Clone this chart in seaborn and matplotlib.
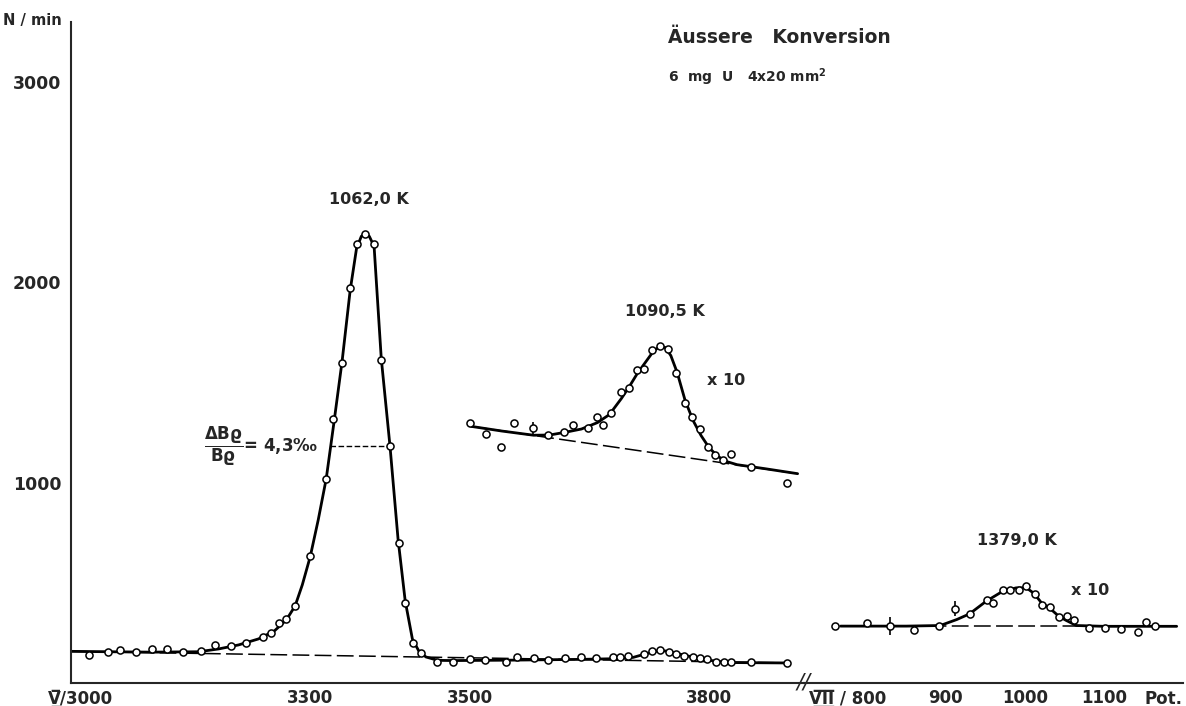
import matplotlib
matplotlib.use("Agg")
import matplotlib.pyplot as plt
import seaborn as sns

# ---------------- measured counting rates ----------------
# setting V, potentiometer reading vs. N/min
pot_v = [3022, 3047, 3062, 3081, 3101, 3120, 3140, 3163, 3181, 3200, 3220, 3241,
         3251, 3261, 3270, 3281, 3300, 3320, 3329, 3340, 3350, 3359, 3369, 3380,
         3389, 3400, 3411, 3419, 3429, 3439, 3459, 3479, 3500, 3519, 3545, 3559,
         3580, 3598, 3619, 3639, 3658, 3679, 3688, 3698, 3718, 3728, 3738, 3750,
         3759, 3769, 3780, 3788, 3797, 3809, 3819, 3828, 3853, 3898]
n_v = [142, 154, 164, 157, 169, 172, 157, 162, 192, 187, 202, 228,
       252, 300, 320, 382, 632, 1020, 1318, 1597, 1971, 2192, 2240, 2192,
       1613, 1181, 699, 400, 200, 151, 104, 106, 121, 117, 106, 131,
       124, 117, 124, 129, 124, 129, 131, 137, 144, 162, 164, 156,
       147, 137, 129, 124, 122, 104, 104, 104, 104, 99]

# setting V, 1090,5 K line enlarged x10
pot_v10 = [3500, 3520, 3539, 3555, 3579, 3598, 3618, 3629, 3648, 3660, 3667, 3677,
           3689, 3699, 3709, 3718, 3728, 3738, 3749, 3759, 3770, 3778, 3788, 3799,
           3808, 3818, 3828, 3853, 3898]
n_v10 = [1298, 1244, 1178, 1298, 1273, 1239, 1251, 1286, 1274, 1328, 1289, 1348,
         1454, 1472, 1564, 1567, 1660, 1683, 1668, 1547, 1400, 1328, 1269, 1178,
         1136, 1115, 1145, 1076, 998]
err_v10_pot = [3579]
err_v10_n = [1273]
err_v10_d = [30]

# setting VII, 1379,0 K line enlarged x10
pot_vii = [760, 800, 830, 860, 892, 912, 930, 952, 960, 972, 981, 993, 1002,
           1013, 1022, 1032, 1043, 1053, 1062, 1081, 1101, 1122, 1143, 1153, 1164]
n_vii = [287, 300, 283, 267, 287, 370, 345, 416, 400, 463, 466, 463, 486,
         446, 388, 380, 328, 333, 317, 275, 275, 270, 257, 303, 283]
err_vii_pot = [830, 912]
err_vii_n = [283, 370]
err_vii_d = [45, 38]

# ---------------- hand-drawn fit curves ----------------
fit_v_pot = [3000, 3100, 3160, 3185, 3210, 3235, 3255, 3270, 3281, 3290, 3300, 3310,
             3320, 3330, 3340, 3350, 3358, 3364, 3369, 3374, 3380, 3389, 3400, 3410,
             3419, 3428, 3436, 3445, 3460, 3480, 3550, 3640, 3690, 3705, 3720, 3735,
             3745, 3755, 3770, 3790, 3810, 3830, 3900]
fit_v_n = [158, 154, 156, 170, 190, 220, 260, 315, 385, 490, 632, 815,
           1020, 1310, 1610, 1960, 2170, 2230, 2245, 2230, 2180, 1620, 1180, 720,
           410, 220, 160, 130, 113, 112, 114, 118, 122, 128, 145, 160,
           160, 152, 138, 120, 108, 102, 100]
base_v_pot = [3000, 3900]
base_v_n = [158, 100]

fit_v10_pot = [3502, 3540, 3580, 3600, 3620, 3640, 3660, 3675, 3690, 3700, 3710, 3720,
               3730, 3738, 3745, 3752, 3760, 3770, 3780, 3790, 3800, 3810, 3820, 3835,
               3870, 3911]
fit_v10_n = [1281, 1258, 1237, 1238, 1252, 1268, 1300, 1340, 1420, 1480, 1545, 1600,
             1655, 1680, 1675, 1635, 1550, 1410, 1310, 1235, 1175, 1135, 1108, 1090,
             1070, 1045]
base_v10_pot = [3502, 3911]
base_v10_n = [1281, 1045]

fit_vii_pot = [767, 850, 893, 914, 930, 951, 972, 989, 1002, 1012, 1021, 1031,
               1043, 1052, 1065, 1100, 1192]
fit_vii_n = [284, 284, 287, 317, 345, 408, 458, 475, 475, 446, 400, 375,
             333, 313, 287, 283, 283]
base_vii_pot = [767, 1192]
base_vii_n = [283, 283]

# half-width marker of the main line
fwhm_pot = [3325, 3400]
fwhm_n = [1182, 1182]

# axis ticks
yticks = [1000, 2000, 3000]
xticks_v = [3000, 3300, 3500, 3800]
xlabels_v = ["", "3300", "3500", "3800"]
xticks_vii = [800, 900, 1000, 1100]
xlabels_vii = ["", "900", "1000", "1100"]

# ---------------- style ----------------
sns.set_style("white")
plt.rcParams["font.family"] = ["DejaVu Sans"]
plt.rcParams["axes.linewidth"] = 1.5
plt.rcParams["mathtext.fontset"] = "dejavusans"

W, H = 1186, 706
fig = plt.figure(figsize=(W / 100, H / 100), dpi=100)
ax_l = fig.add_axes([71 / W, 23 / H, (804 - 71) / W, 661 / H])
ax_r = fig.add_axes([804 / W, 23 / H, (1183 - 804) / W, 661 / H], sharey=ax_l)

LW_FIT = 2.0
DASH = (0, (11, 3.5))


def draw_curve(ax, x, y, **kw):
    sns.lineplot(x=x, y=y, ax=ax, sort=False, estimator=None, color="black", **kw)


def draw_points(ax, x, y):
    sns.scatterplot(x=x, y=y, ax=ax, marker="o", s=26, facecolors="white",
                    edgecolors="black", linewidth=1.1, zorder=5)


# left part: setting V
draw_curve(ax_l, base_v_pot, base_v_n, lw=1.1, linestyle=DASH)
draw_curve(ax_l, base_v10_pot, base_v10_n, lw=1.1, linestyle=DASH)
draw_curve(ax_l, fit_v_pot, fit_v_n, lw=LW_FIT)
draw_curve(ax_l, fit_v10_pot, fit_v10_n, lw=LW_FIT)
draw_curve(ax_l, fwhm_pot, fwhm_n, lw=1.0, linestyle=(0, (4, 1.8)))
ax_l.errorbar(err_v10_pot, err_v10_n, yerr=err_v10_d, fmt="none", ecolor="black",
              elinewidth=1.2, capsize=0, zorder=4)
draw_points(ax_l, pot_v, n_v)
draw_points(ax_l, pot_v10, n_v10)

# right part: setting VII
draw_curve(ax_r, base_vii_pot, base_vii_n, lw=1.1, linestyle=DASH)
draw_curve(ax_r, fit_vii_pot, fit_vii_n, lw=LW_FIT)
ax_r.errorbar(err_vii_pot, err_vii_n, yerr=err_vii_d, fmt="none", ecolor="black",
              elinewidth=1.2, capsize=0, zorder=4)
draw_points(ax_r, pot_vii, n_vii)

# ---------------- axes ----------------
ax_l.set_xlim(3000, 3919)
ax_r.set_xlim(720.7, 1200)
ax_l.set_ylim(0, 3300)

for ax in (ax_l, ax_r):
    ax.set_xlabel("")
    ax.set_ylabel("")
    ax.spines["top"].set_visible(False)
    ax.spines["right"].set_visible(False)
    ax.tick_params(axis="x", direction="in", length=5, width=1.3, pad=4,
                   labelsize=12)
    ax.set_facecolor("none")

ax_r.spines["left"].set_visible(False)
ax_r.tick_params(axis="y", left=False, labelleft=False)

ax_l.set_yticks(yticks)
ax_l.set_yticklabels([str(v) for v in yticks], fontweight="bold")
ax_l.tick_params(axis="y", direction="in", length=7, width=1.3, pad=7,
                 labelsize=12.5)

ax_l.set_xticks(xticks_v)
ax_l.set_xticklabels(xlabels_v, fontweight="bold")
for t in ax_l.xaxis.get_major_ticks()[:2]:
    t.tick1line.set_visible(False)

ax_r.set_xticks(xticks_vii)
ax_r.set_xticklabels(xlabels_vii, fontweight="bold")

xt_l = ax_l.get_xaxis_transform()
xt_r = ax_r.get_xaxis_transform()
OL = "\u0305\u0332"
ax_l.annotate("V" + OL + "/3000", xy=(3000, 0), xycoords=xt_l,
              xytext=(42, -16), textcoords="offset pixels",
              ha="right", va="center", fontsize=12, fontweight="bold")
ax_r.annotate("V" + OL + "I" + OL + "I" + OL + " / 800", xy=(800, 0), xycoords=xt_r,
              xytext=(20, -16), textcoords="offset pixels",
              ha="right", va="center", fontsize=12, fontweight="bold")
ax_r.annotate("Pot.", xy=(1, 0), xycoords="axes fraction",
              xytext=(0, -16), textcoords="offset pixels",
              ha="right", va="center", fontsize=12, fontweight="bold")
ax_l.annotate("N / min", xy=(0, 1), xycoords="axes fraction",
              xytext=(-9, 2), textcoords="offset pixels",
              ha="right", va="center", fontsize=10.5, fontweight="bold")

# axis break mark
ax_l.annotate("//", xy=(1, 0), xycoords="axes fraction", ha="center", va="center",
              fontsize=15, fontstyle="italic")

# ---------------- annotations ----------------
ax_l.text(3374, 2416, "1062,0 K", ha="center", va="center", fontsize=11.5,
          fontweight="bold")
ax_l.text(3745, 1853, "1090,5 K", ha="center", va="center", fontsize=11.5,
          fontweight="bold")
ax_l.text(3821, 1509, "x 10", ha="center", va="center", fontsize=11.5,
          fontweight="bold")
ax_r.text(990, 711, "1379,0 K", ha="center", va="center", fontsize=11.5,
          fontweight="bold")
ax_r.text(1082, 461, "x 10", ha="center", va="center", fontsize=11.5,
          fontweight="bold")
ax_l.text(3310, 1182, r"$\mathbf{\dfrac{\Delta B\varrho}{B\varrho}}$" + "= 4,3\u2030",
          ha="right", va="center", fontsize=12, fontweight="bold")

ax_l.text(3749, 3193, "Äussere   Konversion", ha="left", va="baseline",
          fontsize=13.5, fontweight="bold")
ax_l.text(3749, 3002, "6  mg  U   4x20 mm$^{\\mathbf{2}}$", ha="left", va="baseline",
          fontsize=10, fontweight="bold")

fig.savefig("out.png", dpi=100, facecolor="white")
